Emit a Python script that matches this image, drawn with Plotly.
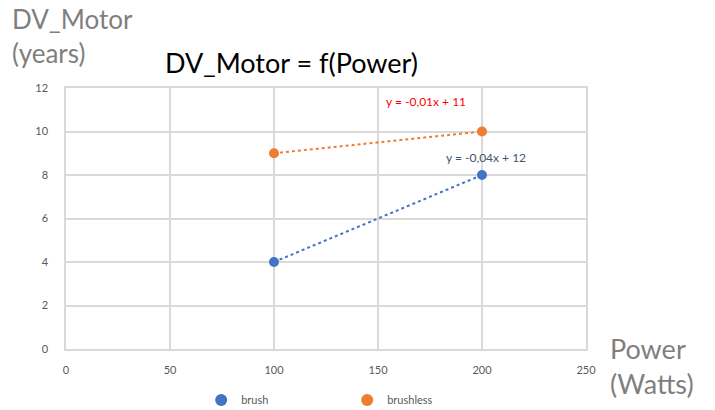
import plotly.graph_objects as go

power = [100, 200]
brush = [4, 8]
brushless = [9, 10]
series_names = ["brush", "brushless"]
eq_brush = "y = -0,04x + 12"
eq_brushless = "y = -0,01x + 11"
x_ticks = [0, 50, 100, 150, 200, 250]
y_ticks = [0, 2, 4, 6, 8, 10, 12]

FONT = "Lato, 'Open Sans', sans-serif"
BLUE = "#4472C4"
ORANGE = "#ED7D31"

fig = go.Figure()
for name, vals, col in [(series_names[0], brush, BLUE), (series_names[1], brushless, ORANGE)]:
    fig.add_trace(go.Scatter(x=power, y=vals, mode="lines", line=dict(color=col, width=2, dash="dot"),
                             showlegend=False, hoverinfo="skip"))
    fig.add_trace(go.Scatter(x=power, y=vals, mode="markers", name=name,
                             marker=dict(color=col, size=10)))

fig.add_annotation(x=173, y=11.4, xref="x", yref="y", text=eq_brushless, showarrow=False,
                   font=dict(family=FONT, size=12, color="#FF0000"))
fig.add_annotation(x=202, y=8.82, xref="x", yref="y", text=eq_brush, showarrow=False,
                   font=dict(family=FONT, size=12, color="#44546A"))

def pix_ann(text, px, py, size, color, xanchor="left"):
    fig.add_annotation(x=(px - 66) / 520, y=(349 - py) / 261, xref="paper", yref="paper",
                       text=text, showarrow=False, xanchor=xanchor, yanchor="middle",
                       font=dict(family=FONT, size=size, color=color))

pix_ann("DV_Motor", 10, 19, 26, "#7F7F7F")
pix_ann("(years)", 10, 53, 26, "#7F7F7F")
pix_ann("DV_Motor = f(Power)", 291, 62, 27, "#000000", xanchor="center")
pix_ann("Power", 608, 348, 27, "#7F7F7F")
pix_ann("(Watts)", 608, 383, 27, "#7F7F7F")

fig.update_layout(
    width=715, height=410,
    margin=dict(l=66, r=129, t=88, b=61, autoexpand=False),
    paper_bgcolor="white", plot_bgcolor="white",
    font=dict(family=FONT, size=11, color="#595959"),
    xaxis=dict(range=[0, 250], tickvals=x_ticks, showgrid=True, gridcolor="#D9D9D9", gridwidth=1.5,
               zeroline=False, showline=True, linecolor="#D9D9D9", linewidth=1.5, mirror=True,
               ticks="", automargin=False, ticklabelstandoff=10, tickfont=dict(size=11, color="#595959")),
    yaxis=dict(range=[0, 12], tickvals=y_ticks, showgrid=True, gridcolor="#D9D9D9", gridwidth=1.5,
               zeroline=False, showline=True, linecolor="#D9D9D9", linewidth=1.5, mirror=True,
               ticks="", automargin=False, ticklabelstandoff=14, tickfont=dict(size=11, color="#595959")),
    legend=dict(orientation="h", x=0.26, y=-0.195, xanchor="left", yanchor="middle",
                entrywidth=101, entrywidthmode="pixels", font=dict(size=11, color="#595959"),
                itemsizing="constant"),
    showlegend=True,
)

fig.write_html("out.html", config={"displayModeBar": False},
               post_script="document.body.style.margin='0';")
